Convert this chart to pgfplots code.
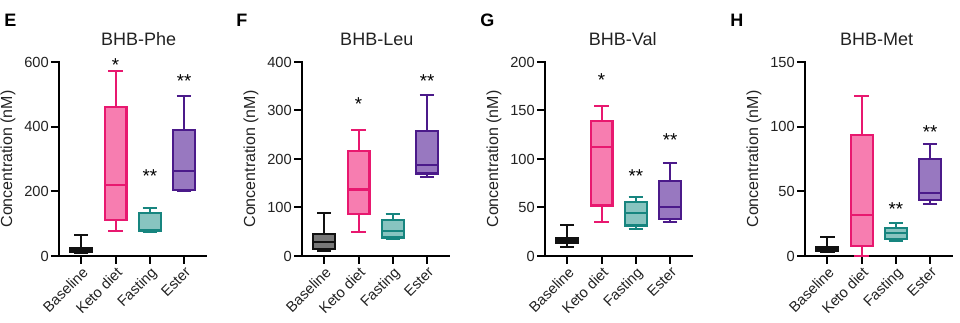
\documentclass[border=0pt]{standalone}
\usepackage{pgfplots}
\pgfplotsset{compat=1.18}
\usepgfplotslibrary{statistics}
\usepackage{fontspec}
\setmainfont{Liberation Sans}
\definecolor{pinkE}{HTML}{E8186F}
\definecolor{pinkF}{HTML}{F77DB0}
\definecolor{tealE}{HTML}{17857F}
\definecolor{tealF}{HTML}{88C4C0}
\definecolor{purE}{HTML}{4B1A8A}
\definecolor{purF}{HTML}{9878C0}
\definecolor{baseE}{HTML}{111111}
\definecolor{baseF}{HTML}{777777}
\definecolor{txt}{HTML}{222222}
\newcommand{\tickfont}{\fontsize{11}{13}\selectfont}
% box: position, lower whisker, lower quartile, median, upper quartile, upper whisker, edge, fill
\newcommand{\bx}[8]{\addplot[draw=#7, fill=#8, line width=1.6pt,
  boxplot prepared={draw position=#1, lower whisker=#2, lower quartile=#3,
  median=#4, upper quartile=#5, upper whisker=#6, draw direction=y,
  box extend=0.64, whisker extend=0.42}] coordinates {};}
\newcommand{\sig}[3]{\node[font=\fontsize{14}{16}\selectfont, anchor=center, yshift=-3pt, inner sep=0pt] at (axis cs:#1,#2) {#3};}
\newcommand{\letterfont}{\bfseries\fontsize{13.5}{15}\selectfont}
\pgfplotsset{
  panel/.style={
    scale only axis, width=110.6pt, height=145.5pt,
    anchor=south west,
    xmin=-0.65, xmax=3.65, ymin=0,
    axis x line*=bottom, axis y line*=left,
    axis line style={line width=1.5pt, black, line cap=rect},
    every tick/.style={black, line width=1.5pt},
    tick align=outside, major tick length=6pt, minor tick num=0,
    xtick={0,1,2,3}, xticklabels={Baseline,Keto diet,Fasting,Ester},
    x tick label style={rotate=45, anchor=north east, inner sep=1pt, font=\tickfont, text=txt},
    y tick label style={inner sep=1.5pt, font=\tickfont, text=txt},
    /pgf/number format/assume math mode=true,
    ylabel={Concentration (nM)},
    every axis y label/.style={at={(axis description cs:-0.3458,0.5)}, rotate=90, anchor=center, font=\fontsize{12}{14}\selectfont, text=txt},
    clip=false,
  },
  ttl/.style={title style={at={(axis description cs:#1,1.046)}, anchor=base, font=\fontsize{13.5}{16}\selectfont, text=txt}},
}
\begin{document}
\begin{tikzpicture}
\useasboundingbox (0,0) rectangle (720pt,242.25pt);
% panel letters
\node[anchor=north west, inner sep=0pt, font=\letterfont] at (3pt,232pt) {E};
\node[anchor=north west, inner sep=0pt, font=\letterfont] at (177pt,232pt) {F};
\node[anchor=north west, inner sep=0pt, font=\letterfont] at (360pt,232pt) {G};
\node[anchor=north west, inner sep=0pt, font=\letterfont] at (547.5pt,232pt) {H};

% E: BHB-Phe
\begin{axis}[panel, ttl=0.54, at={(44.25pt,50.25pt)}, title={BHB-Phe}, ymax=600, ytick={0,200,400,600}]
\bx{0}{9}{13}{18}{24}{65}{baseE}{baseF}
\bx{1}{78}{111}{220}{460}{573}{pinkE}{pinkF}
\bx{2}{73}{76}{80}{133}{148}{tealE}{tealF}
\bx{3}{200}{204}{262}{390}{495}{purE}{purF}
\sig{1}{604}{*}
\sig{2}{261}{**}
\sig{3}{553}{**}
\end{axis}

% F: BHB-Leu
\begin{axis}[panel, ttl=0.507, at={(226.5pt,50.25pt)}, title={BHB-Leu}, ymax=400, ytick={0,100,200,300,400}]
\bx{0}{11}{14}{28}{45}{89}{baseE}{baseF}
\bx{1}{50}{87}{137}{216}{260}{pinkE}{pinkF}
\bx{2}{35}{38}{52}{74}{87}{tealE}{tealF}
\bx{3}{162}{170}{188}{258}{332}{purE}{purF}
\sig{1}{322}{*}
\sig{3}{368}{**}
\end{axis}

% G: BHB-Val
\begin{axis}[panel, ttl=0.527, at={(408.75pt,50.25pt)}, title={BHB-Val}, ymax=200, ytick={0,50,100,150,200}]
\bx{0}{9.5}{13}{16}{18.7}{31.7}{baseE}{baseF}
\bx{1}{35}{52}{112}{139}{155}{pinkE}{pinkF}
\bx{2}{28}{31.4}{44.4}{55.7}{61}{tealE}{tealF}
\bx{3}{34.8}{38.2}{50.6}{77.6}{95.8}{purE}{purF}
\sig{1}{185}{*}
\sig{2}{87}{**}
\sig{3}{124}{**}
\end{axis}

% H: BHB-Met
\begin{axis}[panel, ttl=0.486, at={(603.75pt,50.25pt)}, title={BHB-Met}, ymax=150, ytick={0,50,100,150}]
\bx{0}{3.5}{4.1}{5.5}{6.7}{15}{baseE}{baseF}
\bx{1}{0}{7.7}{31.7}{93.6}{124}{pinkE}{pinkF}
\bx{2}{11.8}{12.9}{17.5}{21.4}{25.8}{tealE}{tealF}
\bx{3}{40}{43.3}{49}{74.8}{86.6}{purE}{purF}
\sig{2}{39.4}{**}
\sig{3}{98.7}{**}
\end{axis}
\end{tikzpicture}
\end{document}
